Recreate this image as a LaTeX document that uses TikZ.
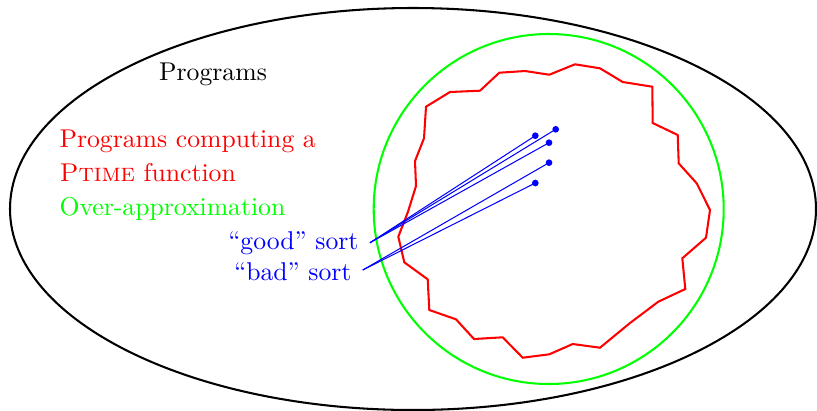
\documentclass[tikz,border=0pt]{standalone}
\begin{document}
\begin{tikzpicture}[x=0.389pt,y=-0.389pt,
  lbl/.style={inner sep=0pt, font=\normalsize},
  dotnode/.style={circle, fill=blue, draw=none, inner sep=0pt, minimum size=2.6pt},
  pointer/.style={blue, line width=0.4pt},
  set/.style={line width=0.8pt}]
\useasboundingbox (0,0) rectangle (817,410);
% universe of programs
\draw[set, black] (413,209) ellipse [x radius=403, y radius=201];
% over-approximation
\draw[set, green] (548.7,209) circle [radius=175];
% Ptime programs
\draw[set, red] (426,106.7) -- (450,92) -- (480,90.7) -- (499.3,72.7) -- (525,71) -- (549.3,74.7)
  -- (575,64.3) -- (600,68.3) -- (622.7,82) -- (652.3,86.7) -- (652.7,123) -- (677.7,135)
  -- (678.7,163.3) -- (696.7,183.3) -- (710,210) -- (706,237.7) -- (682.3,258.3) -- (685.3,289)
  -- (658.3,301.7) -- (630,323) -- (600,347.7) -- (572.7,344) -- (549.3,354.3) -- (522.7,357.7)
  -- (502.7,337.3) -- (474,339) -- (456,319.3) -- (429.3,310) -- (427.7,279.3) -- (404.3,262.3)
  -- (398.3,236.7) -- (408,211.7) -- (416,186) -- (415,161) -- (424,138.3) -- cycle;
% labels
\node[lbl] (prog) at (213,74) {Programs};
\node[lbl, red, anchor=west] (ptime1) at (59,141) {Programs computing a};
\node[lbl, red, anchor=west] (ptime2) at (59,173) {\textsc{Ptime} function};
\node[lbl, green, anchor=west] (over) at (59,209) {Over-approximation};
\node[lbl, blue, anchor=east] (good) at (359,243) {``good'' sort};
\node[lbl, blue, anchor=east] (bad) at (352,272) {``bad'' sort};
\coordinate (gp) at (370,242.7);
\coordinate (bp) at (362.7,270);
% points
\node[dotnode] (g1) at (535.3,135.7) {};
\node[dotnode] (g2) at (555.7,129.3) {};
\node[dotnode] (g3) at (549,142.7) {};
\node[dotnode] (b1) at (549,162.7) {};
\node[dotnode] (b2) at (535.3,183) {};
\draw[pointer] (gp) -- (g1.center);
\draw[pointer] (gp) -- (g2.center);
\draw[pointer] (gp) -- (g3.center);
\draw[pointer] (bp) -- (b1.center);
\draw[pointer] (bp) -- (b2.center);
\end{tikzpicture}
\end{document}
